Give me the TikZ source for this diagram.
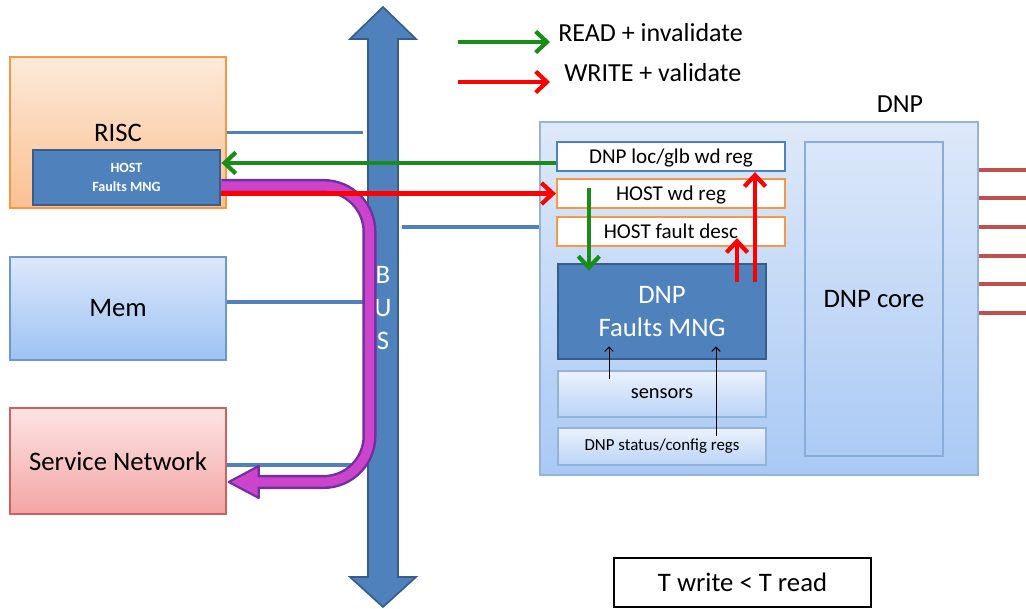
\documentclass[tikz,border=0pt]{standalone}
\usepackage{fontspec}
\setmainfont{Carlito}
\usepackage{tikz}
\usetikzlibrary{arrows.meta, calc}
\definecolor{HostBlue}{HTML}{4F81BD}
\definecolor{HostEdge}{HTML}{385D8A}
\definecolor{RiscTop}{HTML}{FDEADA}
\definecolor{RiscBottom}{HTML}{FAC090}
\definecolor{RiscEdge}{HTML}{F79646}
\definecolor{MemTop}{HTML}{DCE8FA}
\definecolor{MemBottom}{HTML}{9DC2F3}
\definecolor{MemEdge}{HTML}{6C97CF}
\definecolor{SvcTop}{HTML}{FDE4E4}
\definecolor{SvcBottom}{HTML}{F2A5A4}
\definecolor{SvcEdge}{HTML}{D0605E}
\definecolor{DnpTop}{HTML}{DEE9F9}
\definecolor{DnpBottom}{HTML}{A9C9F5}
\definecolor{DnpEdge}{HTML}{95B3D7}
\definecolor{ReadGreen}{HTML}{1A8C1A}
\definecolor{WriteRed}{HTML}{FF0000}
\definecolor{PinRed}{HTML}{C0504D}
\definecolor{PathMagenta}{HTML}{CC44CC}
\definecolor{PathPurple}{HTML}{7030A0}
\tikzset{
  % Box styles
  unitbox/.style={rectangle, minimum width=5.4cm, font=\fontsize{19}{23}\selectfont, align=center, line width=1pt},
  riscbox/.style={unitbox, draw=RiscEdge, top color=RiscTop, bottom color=RiscBottom, minimum height=3.775cm},
  membox/.style={unitbox, draw=MemEdge, top color=MemTop, bottom color=MemBottom, minimum height=2.575cm},
  svcbox/.style={unitbox, draw=SvcEdge, top color=SvcTop, bottom color=SvcBottom, minimum height=2.65cm},
  mngbox/.style={rectangle, draw=HostEdge, fill=HostBlue, line width=2pt, text=white, align=center},
  regbox/.style={rectangle, fill=white, line width=1.6pt, minimum width=5.7cm, minimum height=0.725cm, font=\fontsize{15}{18}\selectfont, text depth=0pt},
  subbox/.style={rectangle, draw=DnpEdge, top color=DnpTop!60, bottom color=DnpBottom!80, minimum width=5.2cm, line width=0.8pt},
  legendtext/.style={inner sep=0pt, font=\fontsize{18.5}{22}\selectfont},
  % Arrow styles
  readarrow/.style={-{Straight Barb[length=8pt,width=15pt]}, line width=3pt, ReadGreen},
  writearrow/.style={-{Straight Barb[length=8pt,width=15pt]}, line width=3pt, WriteRed},
  thinarrow/.style={-{Straight Barb[length=3pt,width=6pt]}, line width=0.7pt, black},
  busline/.style={line width=2.4pt, HostBlue},
  pinline/.style={line width=2.5pt, PinRed}
}
\begin{document}
\begin{tikzpicture}[x=0.025cm, y=-0.025cm]
  \useasboundingbox (0,0) rectangle (1026,609);

  % Host side
  \node[riscbox] (risc) at (118,132.5) {RISC};
  \node[mngbox, minimum width=4.675cm, minimum height=1.375cm, font=\fontsize{10}{13.5}\selectfont\bfseries] (host) at (126.5,177.5) {HOST\\Faults MNG};
  \node[membox] (mem) at (118,308.5) {Mem};
  \node[svcbox] (svc) at (118,461) {Service Network};

  % DNP
  \node[rectangle, draw=DnpEdge, top color=DnpTop, bottom color=DnpBottom, minimum width=10.95cm, minimum height=8.825cm, line width=1pt] (dnp) at (759,298.5) {};
  \node[font=\fontsize{18.5}{22}\selectfont] (dnplbl) at (900,104) {DNP};
  \node[rectangle, draw=MemEdge!80, line width=0.8pt, minimum width=3.45cm, minimum height=7.85cm, font=\fontsize{19}{23}\selectfont] (core) at (874,299) {DNP core};
  \node[regbox, draw=HostBlue] (locreg) at (671,156.5) {DNP loc/glb wd reg};
  \node[regbox, draw=RiscEdge] (wdreg) at (671,193.5) {HOST wd reg};
  \node[regbox, draw=RiscEdge] (descreg) at (671,231.5) {HOST fault desc};
  \node[mngbox, minimum width=5.2cm, minimum height=2.375cm, font=\fontsize{19}{23.4}\selectfont] (dnpmng) at (662,311.5) {DNP\\Faults MNG};
  \node[subbox, minimum height=1.15cm, font=\fontsize{14.5}{17}\selectfont] (sensors) at (662,394) {sensors};
  \node[subbox, minimum height=0.925cm, font=\fontsize{12}{14}\selectfont] (status) at (662,446.5) {DNP status/config regs};

  % Links
  \coordinate (pinend) at (1026,0);
  \foreach \y in {170,198,227,256,284,313}
    \draw[pinline] (dnp.east |- 0,\y) -- (pinend |- 0,\y);
  \coordinate (busW) at (363,0);
  \coordinate (busE) at (402,0);
  \draw[busline] (risc.east) -- (risc.east -| busW);
  \draw[busline] ($(mem.east)+(0,-6.5)$) coordinate (m) -- (m -| busW);
  \draw[busline] ($(svc.east)+(0,4)$) coordinate (s) -- (s -| busW);
  \draw[busline] ($(dnp.west)+(0,-71.5)$) coordinate (d) -- (d -| busE);

  % Bus
  \draw[fill=HostBlue, draw=HostEdge, line width=1.2pt] (383,7) -- (416,39) -- (398,39) -- (398,577) -- (416,577) -- (383,607) -- (350,577) -- (368,577) -- (368,39) -- (350,39) -- cycle;
  \node[text=white, align=center, font=\fontsize{19}{23.4}\selectfont] (buslbl) at (383,308) {B\\U\\S};

  % Fault path to service network
  \coordinate (mstart) at ($(host.east)+(0,8.5)$);
  \coordinate (mtip) at ($(svc.east)+(2,21)$);
  \coordinate (mcol) at (369.5,0);
  \draw[PathPurple, line width=10pt, rounded corners=1.15cm] (mstart) -- (mstart -| mcol) -- (mtip -| mcol) -- ($(mtip)+(30,0)$);
  \filldraw[fill=PathMagenta, draw=PathPurple, line width=1.5pt, line join=round] (mtip) -- ++(30,-16) -- ++(0,32) -- cycle;
  \draw[PathMagenta, line width=6.5pt, rounded corners=1.15cm] (mstart) -- (mstart -| mcol) -- (mtip -| mcol) -- ($(mtip)+(28,0)$);

  % Read / write
  \draw[readarrow] ($(locreg.west)+(0,6.5)$) coordinate (g) -- (g -| host.east);
  \draw[writearrow] (host.east |- wdreg.west) -- (wdreg.west);
  \draw[readarrow] ($(wdreg.west)+(33,-5)$) coordinate (gi) -- ($(gi |- dnpmng.north)+(0,8)$);
  \draw[writearrow] ($(dnpmng.north)+(75,19)$) coordinate (r1) -- ($(r1 |- descreg.south)+(0,-9)$);
  \draw[writearrow] ($(dnpmng.north)+(93,19)$) coordinate (r2) -- (r2 |- locreg.south);
  \draw[thinarrow] ($(sensors.north)+(-53,9)$) coordinate (t1) -- ($(t1 |- dnpmng.south)+(0,-14)$);
  \draw[thinarrow] ($(status.north)+(54,9)$) coordinate (t2) -- ($(t2 |- dnpmng.south)+(0,-14)$);

  % Legend
  \node[legendtext, anchor=base west] (readlbl) at (558,42) {READ + invalidate};
  \node[legendtext, anchor=base west] (writelbl) at (564,82) {WRITE + validate};
  \draw[readarrow] ($(readlbl.base west)+(-100,0)$) -- ($(readlbl.base west)+(-8,0)$);
  \draw[writearrow] ($(writelbl.base west)+(-106,0)$) -- ($(writelbl.base west)+(-14,0)$);
  \node[draw=black, line width=1.5pt, fill=white, minimum width=6.425cm, minimum height=1.225cm, font=\fontsize{19}{23}\selectfont] (tbox) at (742.5,582.5) {T write < T read};
\end{tikzpicture}
\end{document}
